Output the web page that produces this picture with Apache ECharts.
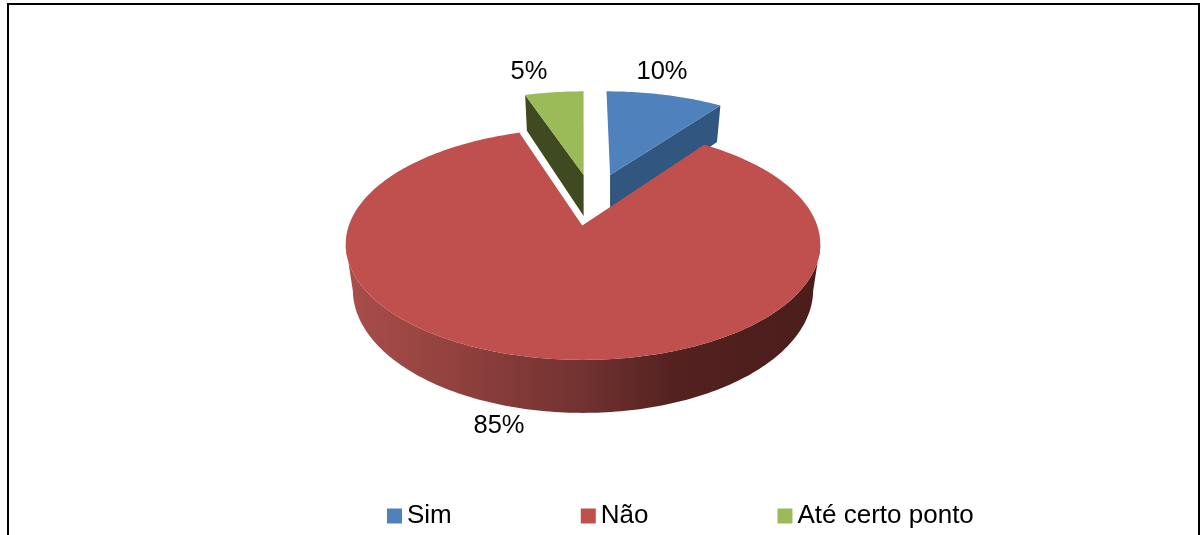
<!DOCTYPE html>
<html>
<head>
<meta charset="utf-8">
<style>html,body{margin:0;padding:0;background:#fff}#c{width:1200px;height:535px}</style>
<script src="https://cdn.jsdelivr.net/npm/echarts@6/dist/echarts.min.js"></script>
</head>
<body>
<div id="c"></div>
<script>
const categories = ['Sim', 'Não', 'Até certo ponto'];
const values = [10, 85, 5];
const topColors = ['#4f81bd', '#c0504d', '#9bbb59'];
const wallColors = ['#31567f', null, '#3f4a21'];

const total = values.reduce((a, b) => a + b, 0);
const startOf = i => values.slice(0, i).reduce((a, b) => a + b, 0) / total * 360;

// Perspective view of the disc
const CX = 583, CY = 225, FX = 234, FY = 112.5, K = 0.166, DEPTH = 44.2, SHRINK = 0.03;
const EXPLODE = [[0.125, 0.48], [0, 0], [0.003, 0.48]];
const LABEL_POS = [[662, 72], [499, 426], [529, 72]];
const WALL_ARC = [100, 260];

function project(u, v, h) {
  const w = 1 + K * v;
  return [CX + FX * u / w, CY - FY * v / w + h * DEPTH / w];
}
function rim(i, a0, a1, h) {
  const [du, dv] = EXPLODE[i], pts = [];
  const n = Math.max(2, Math.ceil(Math.abs(a1 - a0)));
  for (let s = 0; s <= n; s++) {
    const t = (a0 + (a1 - a0) * s / n) * Math.PI / 180;
    pts.push(project(du + Math.sin(t) * (1 - SHRINK * h), dv + Math.cos(t), h));
  }
  return pts;
}
function renderSlice(params, api) {
  const i = params.seriesIndex, value = api.value(0);
  const a0 = startOf(i), a1 = a0 + value / total * 360;
  const [du, dv] = EXPLODE[i];
  const apexTop = project(du, dv, 0), apexBottom = project(du, dv, 1);
  const children = [];
  if (i === 1) {
    const [w0, w1] = WALL_ARC;
    children.push({
      type: 'polygon',
      shape: { points: rim(i, w0, w1, 0).concat(rim(i, w0, w1, 1).reverse()) },
      style: { fill: { type: 'linear', x: 0, y: 0, x2: 1, y2: 0, colorStops: [
        { offset: 0, color: '#a94e4b' },
        { offset: 0.25, color: '#8f403d' },
        { offset: 0.5, color: '#713230' },
        { offset: 0.7, color: '#532120' },
        { offset: 1, color: '#4a1d1b' }
      ] } }
    });
  } else {
    const edge = i === 0 ? a1 : a0;
    const e0 = rim(i, edge, edge, 0)[0], e1 = rim(i, edge, edge, 1)[0];
    children.push({
      type: 'polygon',
      shape: { points: [apexTop, e0, e1, apexBottom] },
      style: { fill: wallColors[i] }
    });
  }
  children.push({
    type: 'polygon',
    shape: { points: [apexTop].concat(rim(i, a0, a1, 0)) },
    style: { fill: topColors[i] }
  });
  if (i === 1) {
    const e = rim(i, a1, a1, 0)[0];
    children.push({
      type: 'polyline',
      shape: { points: [apexTop, e] },
      style: { stroke: '#fff', lineWidth: 2, fill: null }
    });
  }
  children.push({
    type: 'text',
    x: LABEL_POS[i][0], y: LABEL_POS[i][1],
    style: {
      text: value + '%', fill: '#000', align: 'center', verticalAlign: 'middle',
      font: '25.5px "Liberation Sans", Arial, sans-serif'
    }
  });
  return { type: 'group', children };
}

const chart = echarts.init(document.getElementById('c'), null, { renderer: 'canvas' });
chart.setOption({
  animation: false,
  backgroundColor: '#fff',
  graphic: [{
    type: 'rect', z: 0, silent: true,
    shape: { x: 8, y: 4, width: 1191, height: 620 },
    style: { fill: null, stroke: '#000', lineWidth: 2 }
  }],
  legend: {
    data: categories,
    left: 382, top: 503,
    padding: [0, 5],
    itemGap: 129,
    itemWidth: 15, itemHeight: 15,
    icon: 'rect',
    selectedMode: false,
    textStyle: { fontFamily: '"Liberation Sans", Arial, sans-serif', fontSize: 26, color: '#000', padding: [0, 0, 0, 0] }
  },
  series: categories.map((name, i) => ({
    type: 'custom',
    name,
    coordinateSystem: 'none',
    z: i === 1 ? 3 : 2,
    itemStyle: { color: topColors[i] },
    renderItem: renderSlice,
    data: [[values[i]]]
  }))
});
</script>
</body>
</html>
